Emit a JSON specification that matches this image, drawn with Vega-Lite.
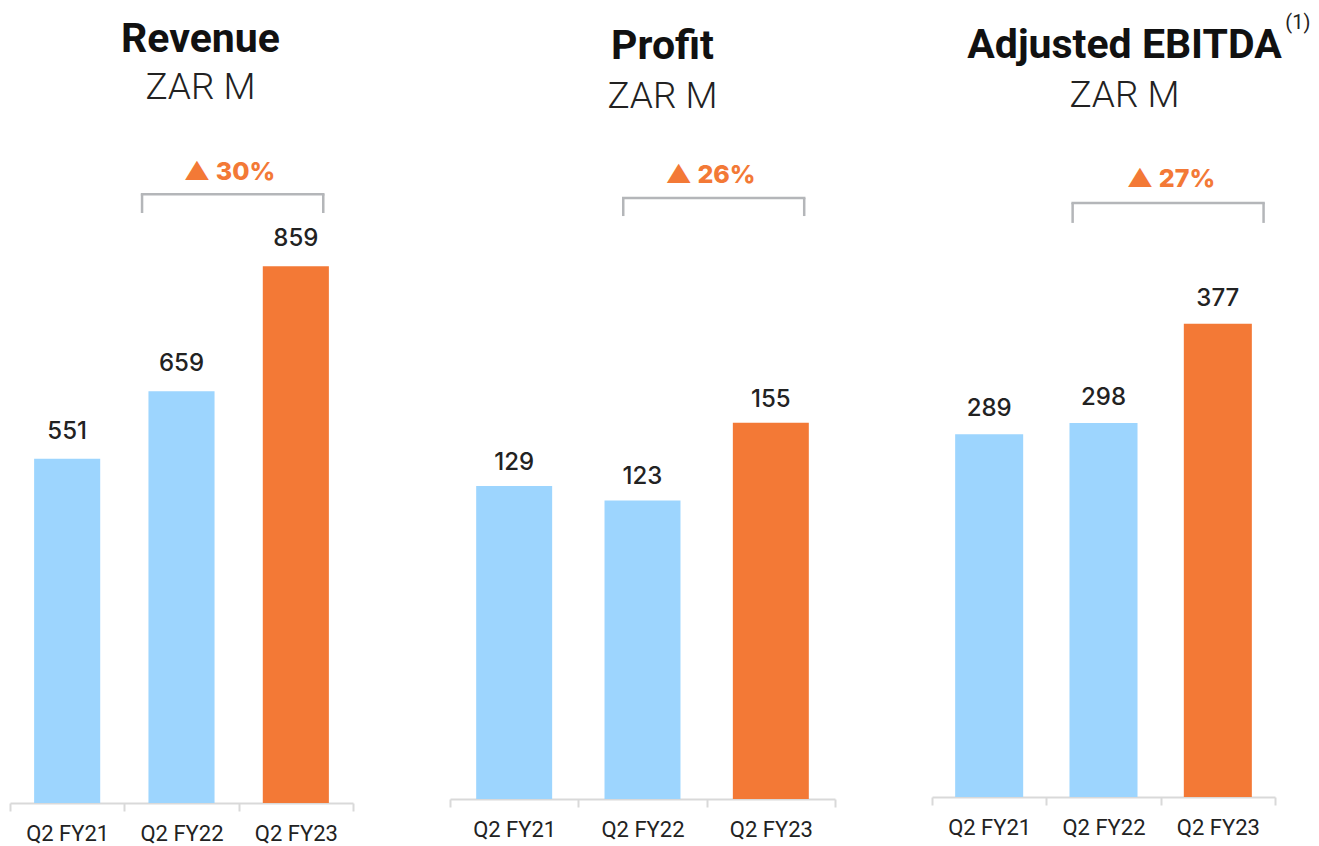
{
  "$schema": "https://vega.github.io/schema/vega-lite/v6.json",
  "padding": {"left": 9, "top": 12, "right": 0, "bottom": 0},
  "background": "white",
  "datasets": {
    "bars": [
      {"metric": "Revenue", "period": "Q2 FY21", "value": 551},
      {"metric": "Revenue", "period": "Q2 FY22", "value": 659},
      {"metric": "Revenue", "period": "Q2 FY23", "value": 859},
      {"metric": "Profit", "period": "Q2 FY21", "value": 129},
      {"metric": "Profit", "period": "Q2 FY22", "value": 123},
      {"metric": "Profit", "period": "Q2 FY23", "value": 155},
      {"metric": "Adjusted EBITDA", "period": "Q2 FY21", "value": 289},
      {"metric": "Adjusted EBITDA", "period": "Q2 FY22", "value": 298},
      {"metric": "Adjusted EBITDA", "period": "Q2 FY23", "value": 377}
    ],
    "growth": [
      {"metric": "Revenue", "label": "▲ 30%", "from": "Q2 FY22", "to": "Q2 FY23", "note": ""},
      {"metric": "Profit", "label": "▲ 26%", "from": "Q2 FY22", "to": "Q2 FY23", "note": ""},
      {"metric": "Adjusted EBITDA", "label": "▲ 27%", "from": "Q2 FY22", "to": "Q2 FY23", "note": "(1)"}
    ]
  },
  "hconcat": [
    {
      "width": 343,
      "height": 652,
      "title": {"text": "Revenue", "subtitle": "ZAR M", "dx": 19, "offset": 44, "subtitlePadding": 9},
      "layer": [
        {
          "data": {"name": "bars"},
          "transform": [{"filter": "datum.metric === 'Revenue'"}],
          "mark": {"type": "bar", "width": {"band": 0.578}},
          "encoding": {
            "x": {"field": "period", "type": "nominal", "title": null, "scale": {"domain": ["Q2 FY21", "Q2 FY22", "Q2 FY23"], "paddingInner": 0, "paddingOuter": 0}},
            "y": {"field": "value", "type": "quantitative", "axis": null, "scale": {"domain": [0, 1043.2], "nice": false}},
            "color": {"field": "period", "type": "nominal", "legend": null, "scale": {"domain": ["Q2 FY21", "Q2 FY22", "Q2 FY23"], "range": ["#9DD5FE", "#9DD5FE", "#F37936"]}}
          }
        },
        {
          "data": {"name": "bars"},
          "transform": [{"filter": "datum.metric === 'Revenue'"}],
          "mark": {"type": "text", "font": "Inter", "fontSize": 24, "fontWeight": 500, "color": "#222222", "baseline": "alphabetic", "dy": -20},
          "encoding": {
            "x": {"field": "period", "type": "nominal", "title": null},
            "y": {"field": "value", "type": "quantitative"},
            "text": {"field": "value", "type": "quantitative"}
          }
        },
        {
          "data": {"name": "growth"},
          "transform": [{"filter": "datum.metric === 'Revenue'"}],
          "mark": {"type": "text", "font": "Inter", "fontSize": 25, "fontWeight": 800, "color": "#F37936", "baseline": "alphabetic"},
          "encoding": {
            "x": {"field": "from", "type": "nominal", "title": null, "bandPosition": 0.92},
            "y": {"datum": 997},
            "text": {"field": "label"}
          }
        },
        {
          "data": {"name": "growth"},
          "transform": [{"filter": "datum.metric === 'Revenue'"}],
          "mark": {"type": "rule", "color": "#B4B6B9", "strokeWidth": 2.5, "strokeCap": "square"},
          "encoding": {
            "x": {"field": "from", "type": "nominal", "title": null, "bandPosition": 0.155},
            "x2": {"field": "to", "bandPosition": 0.74},
            "y": {"datum": 974}
          }
        },
        {
          "data": {"name": "growth"},
          "transform": [{"filter": "datum.metric === 'Revenue'"}],
          "mark": {"type": "rule", "color": "#B4B6B9", "strokeWidth": 2.5},
          "encoding": {
            "x": {"field": "from", "type": "nominal", "title": null, "bandPosition": 0.155},
            "y": {"datum": 974},
            "y2": {"datum": 944}
          }
        },
        {
          "data": {"name": "growth"},
          "transform": [{"filter": "datum.metric === 'Revenue'"}],
          "mark": {"type": "rule", "color": "#B4B6B9", "strokeWidth": 2.5},
          "encoding": {
            "x": {"field": "to", "type": "nominal", "title": null, "bandPosition": 0.74},
            "y": {"datum": 974},
            "y2": {"datum": 944}
          }
        }
      ]
    },
    {
      "width": 385,
      "height": 648,
      "title": {"text": "Profit", "subtitle": "ZAR M", "dx": 20, "offset": 35},
      "layer": [
        {
          "data": {"name": "bars"},
          "transform": [{"filter": "datum.metric === 'Profit'"}],
          "mark": {"type": "bar", "width": {"band": 0.592}},
          "encoding": {
            "x": {"field": "period", "type": "nominal", "title": null, "scale": {"domain": ["Q2 FY21", "Q2 FY22", "Q2 FY23"], "paddingInner": 0, "paddingOuter": 0}},
            "y": {"field": "value", "type": "quantitative", "axis": null, "scale": {"domain": [0, 267], "nice": false}},
            "color": {"field": "period", "type": "nominal", "legend": null, "scale": {"domain": ["Q2 FY21", "Q2 FY22", "Q2 FY23"], "range": ["#9DD5FE", "#9DD5FE", "#F37936"]}}
          }
        },
        {
          "data": {"name": "bars"},
          "transform": [{"filter": "datum.metric === 'Profit'"}],
          "mark": {"type": "text", "font": "Inter", "fontSize": 24, "fontWeight": 500, "color": "#222222", "baseline": "alphabetic", "dy": -16},
          "encoding": {
            "x": {"field": "period", "type": "nominal", "title": null},
            "y": {"field": "value", "type": "quantitative"},
            "text": {"field": "value", "type": "quantitative"}
          }
        },
        {
          "data": {"name": "growth"},
          "transform": [{"filter": "datum.metric === 'Profit'"}],
          "mark": {"type": "text", "font": "Inter", "fontSize": 25, "fontWeight": 800, "color": "#F37936", "baseline": "alphabetic"},
          "encoding": {
            "x": {"field": "to", "type": "nominal", "title": null, "bandPosition": 0.03},
            "y": {"datum": 253.8},
            "text": {"field": "label"}
          }
        },
        {
          "data": {"name": "growth"},
          "transform": [{"filter": "datum.metric === 'Profit'"}],
          "mark": {"type": "rule", "color": "#B4B6B9", "strokeWidth": 2.5, "strokeCap": "square"},
          "encoding": {
            "x": {"field": "from", "type": "nominal", "title": null, "bandPosition": 0.35},
            "x2": {"field": "to", "bandPosition": 0.76},
            "y": {"datum": 247.6}
          }
        },
        {
          "data": {"name": "growth"},
          "transform": [{"filter": "datum.metric === 'Profit'"}],
          "mark": {"type": "rule", "color": "#B4B6B9", "strokeWidth": 2.5},
          "encoding": {
            "x": {"field": "from", "type": "nominal", "title": null, "bandPosition": 0.35},
            "y": {"datum": 247.6},
            "y2": {"datum": 240.2}
          }
        },
        {
          "data": {"name": "growth"},
          "transform": [{"filter": "datum.metric === 'Profit'"}],
          "mark": {"type": "rule", "color": "#B4B6B9", "strokeWidth": 2.5},
          "encoding": {
            "x": {"field": "to", "type": "nominal", "title": null, "bandPosition": 0.76},
            "y": {"datum": 247.6},
            "y2": {"datum": 240.2}
          }
        }
      ]
    },
    {
      "width": 343,
      "height": 646,
      "title": {"text": "Adjusted EBITDA", "subtitle": "ZAR M", "dx": 21, "dy": 124, "offset": 22},
      "layer": [
        {
          "data": {"name": "bars"},
          "transform": [{"filter": "datum.metric === 'Adjusted EBITDA'"}],
          "mark": {"type": "bar", "width": {"band": 0.595}},
          "encoding": {
            "x": {"field": "period", "type": "nominal", "title": null, "scale": {"domain": ["Q2 FY21", "Q2 FY22", "Q2 FY23"], "paddingInner": 0, "paddingOuter": 0}},
            "y": {"field": "value", "type": "quantitative", "axis": null, "scale": {"domain": [0, 514.7], "nice": false}},
            "color": {"field": "period", "type": "nominal", "legend": null, "scale": {"domain": ["Q2 FY21", "Q2 FY22", "Q2 FY23"], "range": ["#9DD5FE", "#9DD5FE", "#F37936"]}}
          }
        },
        {
          "data": {"name": "bars"},
          "transform": [{"filter": "datum.metric === 'Adjusted EBITDA'"}],
          "mark": {"type": "text", "font": "Inter", "fontSize": 24, "fontWeight": 500, "color": "#222222", "baseline": "alphabetic", "dy": -18},
          "encoding": {
            "x": {"field": "period", "type": "nominal", "title": null},
            "y": {"field": "value", "type": "quantitative"},
            "text": {"field": "value", "type": "quantitative"}
          }
        },
        {
          "data": {"name": "growth"},
          "transform": [{"filter": "datum.metric === 'Adjusted EBITDA'"}],
          "mark": {"type": "text", "font": "Inter", "fontSize": 25, "fontWeight": 800, "color": "#F37936", "baseline": "alphabetic"},
          "encoding": {
            "x": {"field": "to", "type": "nominal", "title": null, "bandPosition": 0.09},
            "y": {"datum": 486},
            "text": {"field": "label"}
          }
        },
        {
          "data": {"name": "growth"},
          "transform": [{"filter": "datum.metric === 'Adjusted EBITDA'"}],
          "mark": {"type": "rule", "color": "#B4B6B9", "strokeWidth": 2.5, "strokeCap": "square"},
          "encoding": {
            "x": {"field": "from", "type": "nominal", "title": null, "bandPosition": 0.23},
            "x2": {"field": "to", "bandPosition": 0.9},
            "y": {"datum": 473.3}
          }
        },
        {
          "data": {"name": "growth"},
          "transform": [{"filter": "datum.metric === 'Adjusted EBITDA'"}],
          "mark": {"type": "rule", "color": "#B4B6B9", "strokeWidth": 2.5},
          "encoding": {
            "x": {"field": "from", "type": "nominal", "title": null, "bandPosition": 0.23},
            "y": {"datum": 473.3},
            "y2": {"datum": 457.4}
          }
        },
        {
          "data": {"name": "growth"},
          "transform": [{"filter": "datum.metric === 'Adjusted EBITDA'"}],
          "mark": {"type": "rule", "color": "#B4B6B9", "strokeWidth": 2.5},
          "encoding": {
            "x": {"field": "to", "type": "nominal", "title": null, "bandPosition": 0.9},
            "y": {"datum": 473.3},
            "y2": {"datum": 457.4}
          }
        },
        {
          "data": {"name": "growth"},
          "transform": [{"filter": "datum.metric === 'Adjusted EBITDA'"}],
          "mark": {"type": "text", "font": "Roboto", "fontSize": 20, "color": "#222222", "baseline": "alphabetic"},
          "encoding": {
            "x": {"field": "to", "type": "nominal", "title": null, "bandPosition": 1.2},
            "y": {"datum": 612},
            "text": {"field": "note"}
          }
        }
      ]
    }
  ],
  "config": {
    "view": {"stroke": null},
    "concat": {"spacing": 95},
    "axisX": {
      "domainColor": "#D9D9D9",
      "domainWidth": 2,
      "tickColor": "#D9D9D9",
      "tickWidth": 2,
      "tickSize": 8,
      "tickBand": "extent",
      "labelFont": "Roboto",
      "labelFontSize": 22,
      "labelColor": "#222222",
      "labelPadding": 12,
      "labelAngle": 0,
      "grid": false
    },
    "title": {
      "font": "Roboto",
      "fontSize": 41,
      "fontWeight": "bold",
      "color": "#111111",
      "subtitleFont": "Roboto",
      "subtitleFontSize": 37,
      "subtitleFontWeight": 300,
      "subtitleColor": "#222222",
      "anchor": "middle",
      "frame": "group",
      "subtitlePadding": 11
    }
  }
}
